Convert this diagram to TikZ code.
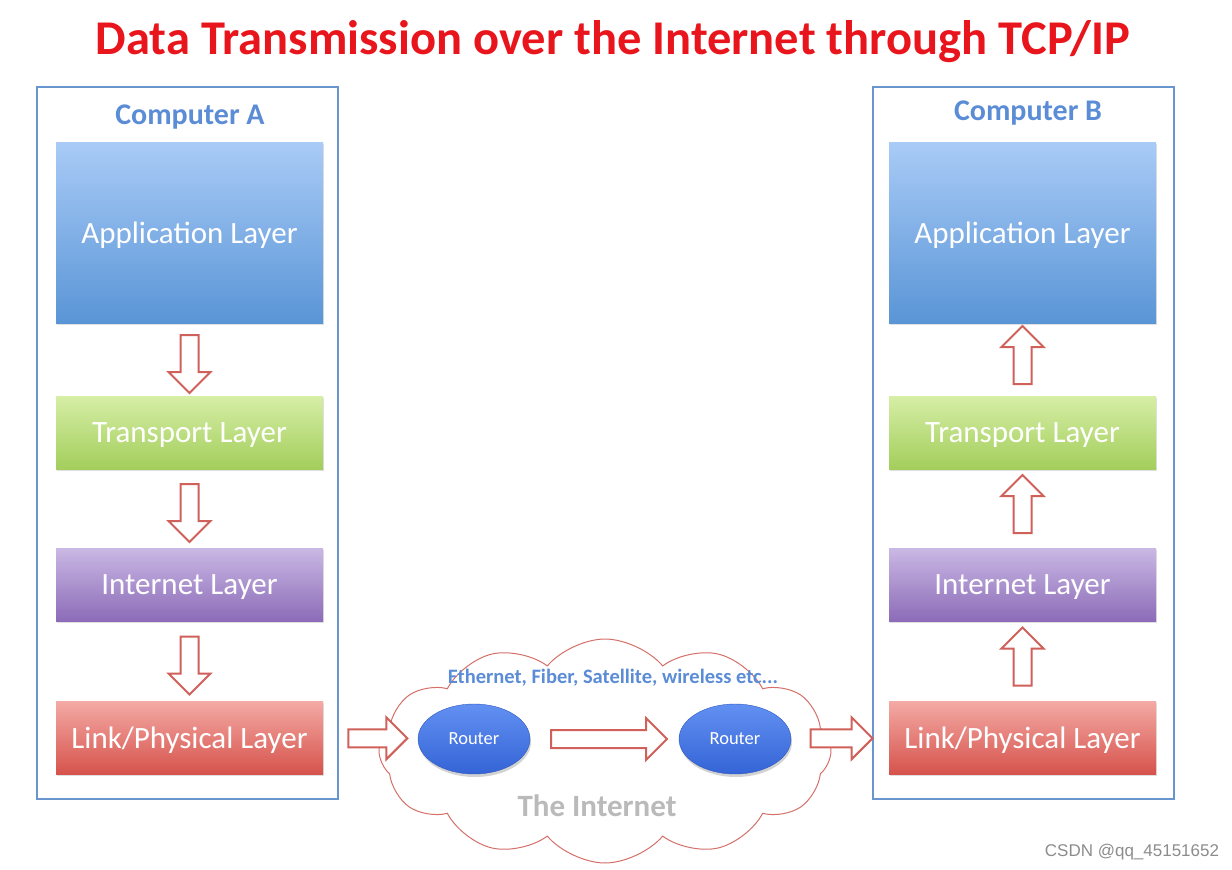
\documentclass[tikz,border=0pt]{standalone}
\usepackage{fontspec}
\setmainfont{Carlito}
\newfontfamily\wmfont{Liberation Sans}
\usetikzlibrary{shapes.arrows,shapes.symbols,shapes.geometric,shadows,calc}

\definecolor{titlered}{HTML}{E8151C}
\definecolor{framebl}{HTML}{6A96D0}
\definecolor{textbl}{HTML}{5B8CD6}
\definecolor{arrowred}{HTML}{D0605A}
\definecolor{cloudred}{HTML}{D47069}

\begin{document}
\begin{tikzpicture}
    [x=1pt,y=-1pt,
    frame/.style={draw=framebl,line width=2pt,inner sep=0pt},
    compname/.style={text=textbl,text depth=0pt,font=\fontsize{30}{34}\selectfont\bfseries},
    layer/.style={minimum width=267pt,inner sep=0pt,text=white,text depth=0pt,
        font=\fontsize{31}{34}\selectfont,
        drop shadow={opacity=0.25,shadow xshift=1pt,shadow yshift=-2pt}},
    app/.style={layer,minimum height=181pt,top color={rgb,255:red,169;green,203;blue,247},bottom color={rgb,255:red,90;green,149;blue,214}},
    transp/.style={layer,minimum height=73pt,top color={rgb,255:red,214;green,238;blue,166},bottom color={rgb,255:red,163;green,206;blue,92}},
    inet/.style={layer,minimum height=73pt,top color={rgb,255:red,202;green,184;blue,228},bottom color={rgb,255:red,140;green,108;blue,184}},
    link/.style={layer,minimum height=73pt,top color={rgb,255:red,244;green,170;blue,165},bottom color={rgb,255:red,214;green,83;blue,76}},
    blockarrow/.style={single arrow,draw=arrowred,fill=white,line width=2pt,
        inner sep=8pt,single arrow head extend=12pt,single arrow tip angle=90},
    downarrow/.style={blockarrow,shape border rotate=270,minimum height=58pt},
    uparrow/.style={blockarrow,shape border rotate=90,minimum height=58pt},
    rightarrow/.style={blockarrow,shape border rotate=0},
    router/.style={ellipse,minimum width=112pt,minimum height=70pt,inner sep=0pt,
        draw={rgb,255:red,45;green,88;blue,190},top color={rgb,255:red,98;green,144;blue,242},
        bottom color={rgb,255:red,52;green,100;blue,214},text=white,
        font=\fontsize{18.5}{20}\selectfont,
        drop shadow={opacity=0.35,shadow xshift=1pt,shadow yshift=-3pt}}]

\useasboundingbox (0,0) rectangle (1232,870);

%title
\node[text=titlered,font=\fontsize{48.5}{54}\selectfont\bfseries] (title) at (613,42)
    {Data Transmission over the Internet through TCP/IP};

%the two computers
\node[frame,minimum width=301pt,minimum height=712pt] (compA) at (187.5,443) {};
\node[frame,minimum width=301pt,minimum height=712pt] (compB) at (1023.5,443) {};
\node[compname] (nameA) at (190,115) {Computer A};
\node[compname] (nameB) at (1028,111) {Computer B};

%layers of computer A
\node[app] (appA) at (189.5,232.5) {Application Layer};
\node[transp] (trA) at (189.5,432.5) {Transport Layer};
\node[inet] (inA) at (189.5,584.5) {Internet Layer};
\node[link] (lkA) at (189.5,737.5) {Link/Physical Layer};

%layers of computer B
\node[app] (appB) at (1022.5,232.5) {Application Layer};
\node[transp] (trB) at (1022.5,432.5) {Transport Layer};
\node[inet] (inB) at (1022.5,584.5) {Internet Layer};
\node[link] (lkB) at (1022.5,737.5) {Link/Physical Layer};

%down the stack of A
\node[downarrow] (a1) at ($(appA.south)!0.5!(trA.north)$) {};
\node[downarrow] (a2) at ($(trA.south)!0.5!(inA.north)$) {};
\node[downarrow] (a3) at ($(inA.south)!0.5!(lkA.north)$) {};

%up the stack of B
\node[uparrow] (b1) at ($(trB.north)!0.5!(appB.south)$) {};
\node[uparrow] (b2) at ($(inB.north)!0.5!(trB.south)$) {};
\node[uparrow] (b3) at ($(lkB.north)!0.5!(inB.south)$) {};

%the internet cloud
\node[cloud,cloud puffs=12,cloud puff arc=100,aspect=2.1,draw=cloudred,fill=white,
    line width=1pt,minimum width=452pt,minimum height=224pt] (cloud) at (605,751) {};
\node[text=textbl,font=\fontsize{20.5}{23}\selectfont\bfseries] (media) at (613,678)
    {Ethernet, Fiber, Satellite, wireless etc...};
\node[text=black!27,font=\fontsize{31}{34}\selectfont\bfseries] (inettxt) at (597,806) {The Internet};
\node[router] (r1) at (474,739) {Router};
\node[router] (r2) at (735,739) {Router};

%across the internet
\node[rightarrow,minimum height=59pt] (h1) at ($(lkA.east)!0.53!(r1.west)$) {};
\node[rightarrow,minimum height=116pt] (h2) at ($(r1.east)!0.5!(r2.west)$) {};
\node[rightarrow,minimum height=62pt] (h3) at ($(r2.east)!0.47!(lkB.west)$) {};

%watermark
\node[text=black!45,font=\wmfont\fontsize{17}{20}\selectfont] (wm) at (1132,852) {CSDN @qq\_45151652};

\end{tikzpicture}
\end{document}
